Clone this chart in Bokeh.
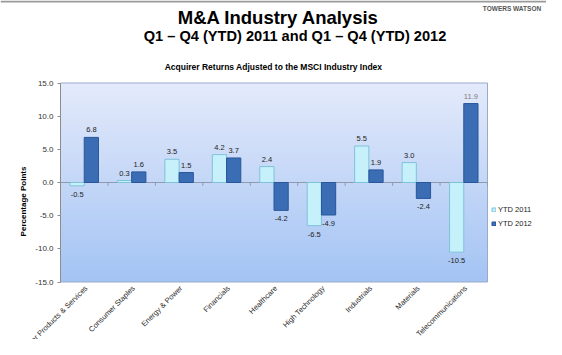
import numpy as np
from bokeh.plotting import figure
from bokeh.models import (ColumnDataSource, Range1d, FixedTicker, LinearAxis,
                          PrintfTickFormatter, LabelSet, Label, Legend, LegendItem)
from bokeh.core.properties import value
from bokeh.transform import dodge
from bokeh.embed import file_html
from bokeh.resources import INLINE

categories = ["Consumer Products & Services", "Consumer Staples", "Energy & Power",
              "Financials", "Healthcare", "High Technology", "Industrials",
              "Materials", "Telecommunications"]
ytd_2011 = [-0.5, 0.3, 3.5, 4.2, 2.4, -6.5, 5.5, 3.0, -10.5]
ytd_2012 = [6.8, 1.6, 1.5, 3.7, -4.2, -4.9, 1.9, -2.4, 11.9]
y_ticks = [-15, -10, -5, 0, 5, 10, 15]
Y_MIN, Y_MAX = -15, 15

FONT = "Liberation Sans"
W, H = 546, 339
FL, FR, FT, FB = 60, 487, 82.5, 281.5  # plot-area edges in canvas pixels

ncat = len(categories)
idx = list(range(ncat))
x_lo, x_hi = -0.5, ncat - 0.5
kx = (FR - FL) / (x_hi - x_lo)
ky = (FB - FT) / (Y_MAX - Y_MIN)
X0, X1 = x_lo - FL / kx, x_hi + (W - FR) / kx
Y0, Y1 = Y_MIN - (H - FB) / ky, Y_MAX + FT / ky

# the frame covers the whole canvas; the plot area is drawn inside it
p = figure(width=W, height=H, x_range=Range1d(X0, X1), y_range=Range1d(Y0, Y1),
           x_axis_location=None, y_axis_location=None, toolbar_location=None,
           output_backend="svg", min_border=0)
p.xgrid.visible = False
p.ygrid.visible = False
p.outline_line_color = None
p.background_fill_color = "white"
p.border_fill_color = "white"

# thin grey rule at the very top of the slide
p.segment(x0=[X0], y0=[Y1 - 1 / ky], x1=[X1], y1=[Y1 - 1 / ky],
          line_color="#9a9a9a", line_width=2)

# background gradient of plot area
n = 120
img = np.zeros((n, 2), dtype=np.uint32)
view = img.view(dtype=np.uint8).reshape((n, 2, 4))
top = np.array([0xe4, 0xea, 0xfb])
bot = np.array([0xa4, 0xc4, 0xf4])
for i in range(n):
    t = i / (n - 1)
    c = bot * (1 - t) + top * t
    view[i, :, 0] = int(c[0]); view[i, :, 1] = int(c[1]); view[i, :, 2] = int(c[2]); view[i, :, 3] = 255
p.image_rgba(image=[img], x=x_lo, y=Y_MIN, dw=x_hi - x_lo, dh=Y_MAX - Y_MIN)
p.quad(left=[x_lo], right=[x_hi], bottom=[Y_MIN], top=[Y_MAX], fill_color=None,
       line_color="#98abc9", line_width=1)

# zero line with category-boundary ticks
bounds = [b - 0.5 for b in range(ncat + 1)]
p.segment(x0=[x_lo], y0=[0], x1=[x_hi], y1=[0], line_color="#8e9ab0", line_width=1)
p.segment(x0=bounds, y0=[0] * len(bounds), x1=bounds, y1=[-0.5] * len(bounds),
          line_color="#8e9ab0", line_width=1)

src = ColumnDataSource(dict(i=idx, cat=categories, a=ytd_2011, b=ytd_2012))
r1 = p.vbar(x=dodge("i", -0.15), top="a", bottom=0, width=0.3,
            source=src, fill_color="#c6f0fa", line_color="#7fc3da", line_width=1)
r2 = p.vbar(x=dodge("i", 0.15), top="b", bottom=0, width=0.3,
            source=src, fill_color="#3b6db5", line_color="#28569a", line_width=1)

def lab_src(vals):
    return ColumnDataSource(dict(
        i=idx, v=vals, t=["%.1f" % v for v in vals],
        off=[7.5 if v >= 0 else -8.5 for v in vals],
        col=["#808080" if v > 10 else "#222222" for v in vals]))

for vals, dx in ((ytd_2011, -0.15), (ytd_2012, 0.15)):
    p.add_layout(LabelSet(x=dodge("i", dx), y="v", text="t",
                          y_offset="off", source=lab_src(vals), text_align="center",
                          text_baseline="middle", text_font_size=value("7.5px"),
                          text_font=value(FONT), text_color="col"))

# rotated category labels under the plot area
csrc = ColumnDataSource(dict(i=idx, y=[Y_MIN] * ncat, cat=categories))
p.add_layout(LabelSet(x="i", y="y", text="cat", source=csrc, angle=np.pi / 4,
                      x_offset=2, y_offset=-5, text_align="right", text_baseline="middle",
                      text_font_size=value("7.5px"), text_font=value(FONT),
                      text_color=value("#2a2a2a")))

# y axis fixed at the plot-area left edge
ax = LinearAxis(fixed_location=x_lo, bounds=(Y_MIN, Y_MAX))
ax.ticker = FixedTicker(ticks=y_ticks)
ax.formatter = PrintfTickFormatter(format="%.1f")
ax.major_tick_out = 3
ax.major_tick_in = 0
ax.minor_tick_out = 0
ax.minor_tick_in = 0
ax.major_label_standoff = 4
ax.axis_line_color = "#8c8c8c"
ax.major_tick_line_color = "#8c8c8c"
ax.major_label_text_font = FONT
ax.major_label_text_font_size = "8px"
ax.major_label_text_color = "#333333"
p.add_layout(ax, "left")

def add_text(txt, fx, fy, size, bold=True, color="#000000", align="center",
             baseline="alphabetic", angle=0):
    p.add_layout(Label(x=fx, y=H - fy, x_units="screen", y_units="screen", text=txt,
                       text_font=FONT, text_font_size=size,
                       text_font_style="bold" if bold else "normal",
                       text_color=color, text_align=align, text_baseline=baseline,
                       angle=angle))

add_text("M&A Industry Analysis", 278, 17, "18.5px")
add_text("Q1 \u2013 Q4 (YTD) 2011 and Q1 \u2013 Q4 (YTD) 2012", 294.5, 35, "14.6px")
add_text("Acquirer Returns Adjusted to the MSCI Industry Index", 273, 66.5, "8.5px",
         baseline="middle")
add_text("Percentage Points", 22.5, 201, "8px", baseline="middle", angle=np.pi / 2)
add_text("TOWERS WATSON", 511.5, 8, "6.5px", color="#555555")

legend = Legend(items=[LegendItem(label="YTD 2011", renderers=[r1]),
                       LegendItem(label="YTD 2012", renderers=[r2])],
                location=(491, H - 229.5), glyph_width=5, glyph_height=5, label_height=13,
                label_standoff=2, spacing=1, padding=0, margin=0,
                label_text_font=FONT, label_text_font_size="7.5px",
                label_text_color="#222222", border_line_alpha=0,
                background_fill_alpha=0)
p.add_layout(legend)

open("out.html", "w").write(file_html(p, INLINE))
